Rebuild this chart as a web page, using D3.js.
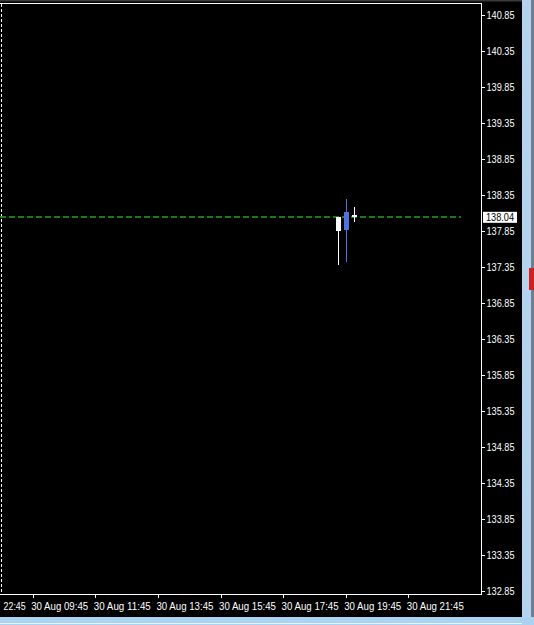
<!DOCTYPE html>
<html><head><meta charset="utf-8">
<script src="https://cdn.jsdelivr.net/npm/d3@7"></script>
<style>html,body{margin:0;padding:0;background:#000;overflow:hidden}svg{display:block}</style>
</head><body>
<script>
// ---- data ----
const barIndex = [39, 40, 41];               // 15-min bars counted from 30 Aug 09:45
const opens  = [138.04, 137.87, 138.07];
const highs  = [138.05, 138.30, 138.19];
const lows   = [137.38, 137.42, 137.98];
const closes = [137.85, 138.11, 138.04];
const bidPrice = 138.04;
const yTicks = [140.85,140.35,139.85,139.35,138.85,138.35,137.85,137.35,136.85,136.35,135.85,135.35,134.85,134.35,133.85,133.35,132.85];
const xTickIdx = [-8, 0, 8, 16, 24, 32, 40, 48];
const xTickLabels = ["22:45","30 Aug 09:45","30 Aug 11:45","30 Aug 13:45","30 Aug 15:45","30 Aug 17:45","30 Aug 19:45","30 Aug 21:45"];

const W = 534, H = 625;
const svg = d3.select("body").append("svg").attr("width", W).attr("height", H);
svg.append("rect").attr("width", W).attr("height", H).attr("fill", "#000");
// window chrome
svg.append("rect").attr("x",0).attr("y",0).attr("width",W).attr("height",1.5).attr("fill","#3a3a3a");
svg.append("rect").attr("x",522).attr("y",0).attr("width",12).attr("height",H).attr("fill","#b4d3ee");
svg.append("rect").attr("x",531).attr("y",0).attr("width",3).attr("height",H).attr("fill","#6f7f8e");
svg.append("rect").attr("x",529).attr("y",268).attr("width",5).attr("height",22).attr("fill","#d02020");
svg.append("rect").attr("x",0).attr("y",617).attr("width",W).attr("height",8).attr("fill","#a9d3f0");
svg.append("rect").attr("x",0).attr("y",623).attr("width",522).attr("height",1).attr("fill","#e8f4fb");

const y = d3.scaleLinear().domain([132.85, 140.85]).range([591, 15]);
const x = d3.scaleLinear().domain([0, 48]).range([32.7, 408.3]);
const font = "'Liberation Sans', Arial, sans-serif";

// frame
const fr = svg.append("g").attr("stroke","#fff").attr("stroke-width",1).attr("shape-rendering","crispEdges");
fr.append("line").attr("x1",0).attr("x2",482).attr("y1",3.5).attr("y2",3.5);
fr.append("line").attr("x1",481.5).attr("x2",481.5).attr("y1",3).attr("y2",594.5);
fr.append("line").attr("x1",0).attr("x2",482).attr("y1",594.5).attr("y2",594.5);
fr.append("line").attr("x1",1.5).attr("x2",1.5).attr("y1",4).attr("y2",594).attr("stroke-dasharray","3,2");

// y axis
const yAxis = d3.axisRight(y).tickValues(yTicks).tickFormat(d3.format(".2f")).tickSize(3).tickPadding(2);
const ya = svg.append("g").attr("transform","translate(481.5,0)").call(yAxis);
ya.select(".domain").remove();
ya.selectAll("line").attr("stroke","#fff").attr("shape-rendering","crispEdges");
ya.selectAll("text").attr("fill","#fff").attr("font-family",font).attr("font-size","10.5px")
  .attr("textLength",28).attr("lengthAdjust","spacingAndGlyphs");

// x axis
const xAxis = d3.axisBottom(x).tickValues(xTickIdx).tickFormat((d,i)=>xTickLabels[i]).tickSize(3).tickPadding(5);
const xa = svg.append("g").attr("transform","translate(0,594.5)").call(xAxis);
xa.select(".domain").remove();
xa.selectAll("line").attr("stroke","#fff").attr("shape-rendering","crispEdges");
xa.selectAll("text").attr("fill","#fff").attr("font-family",font).attr("font-size","10.5px")
  .attr("text-anchor","start").attr("dx",-2)
  .attr("textLength",57).attr("lengthAdjust","spacingAndGlyphs");
// the first label is the clipped tail of a date label: show its visible part only
xa.selectAll("text").filter((d,i)=>i===0)
  .attr("text-anchor","end").attr("dx",55).attr("textLength",22);

// bid line
const by = y(bidPrice);
svg.append("line").attr("x1",0).attr("x2",461).attr("y1",Math.round(by)).attr("y2",Math.round(by))
  .attr("stroke","#1fa51f").attr("stroke-width",1.6).attr("stroke-dasharray","6,3");
svg.append("rect").attr("x",483).attr("y",by-5.5).attr("width",34).attr("height",11).attr("fill","#fff");
svg.append("text").attr("x",486).attr("y",by+4).attr("fill","#000").attr("font-family",font).attr("font-size","10.5px")
  .attr("textLength",28).attr("lengthAdjust","spacingAndGlyphs").text(d3.format(".2f")(bidPrice));

// candles
const data = barIndex.map((b,i)=>({b, o:opens[i], h:highs[i], l:lows[i], c:closes[i]}));
const col = d => d.c > d.o ? "#4f73dc" : "#ffffff";
const cg = svg.append("g").attr("shape-rendering","crispEdges");
cg.selectAll("line.w").data(data).join("line")
  .attr("x1",d=>Math.round(x(d.b))+0.5).attr("x2",d=>Math.round(x(d.b))+0.5)
  .attr("y1",d=>y(d.h)).attr("y2",d=>y(d.l)).attr("stroke",col).attr("stroke-width",1);
cg.selectAll("rect.b").data(data).join("rect")
  .attr("x",d=>Math.round(x(d.b))-2).attr("width",5)
  .attr("y",d=>y(Math.max(d.o,d.c))).attr("height",d=>Math.max(1,y(Math.min(d.o,d.c))-y(Math.max(d.o,d.c))))
  .attr("fill",col);
</script>
</body></html>
